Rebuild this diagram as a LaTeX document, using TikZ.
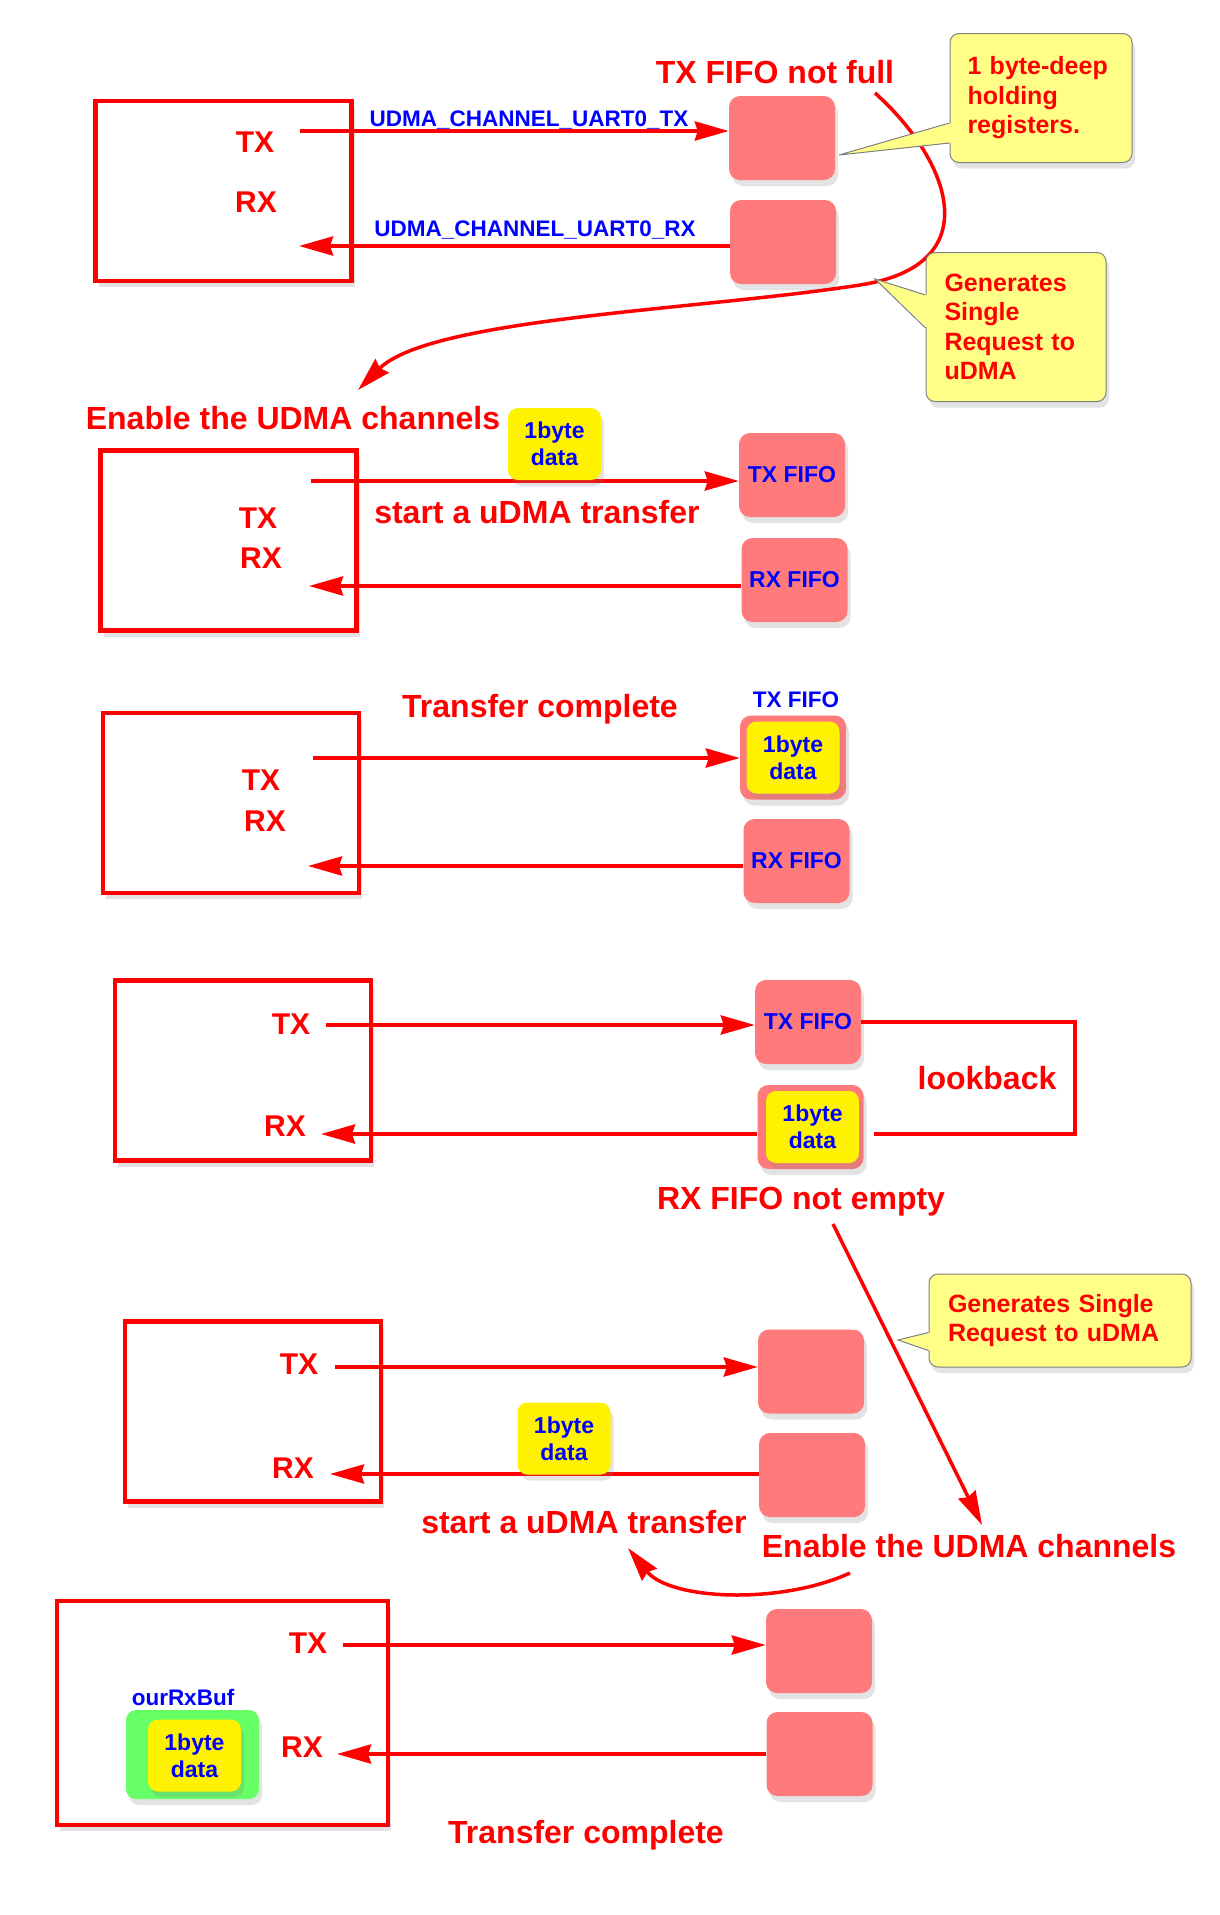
\documentclass[tikz,border=0pt]{standalone}
\usepackage{fontspec}
\setmainfont{Liberation Sans}
\usetikzlibrary{arrows.meta,shadows,positioning,calc}

\definecolor{fifopink}{RGB}{255,123,123}
\definecolor{notefill}{RGB}{255,255,136}
\definecolor{bufgreen}{RGB}{102,255,102}

\begin{document}
\begin{tikzpicture}[x=1pt,y=-1pt,>={Stealth[length=34pt,width=19pt,inset=3pt]}]
  \tikzstyle{soft}=[drop shadow={opacity=0.22,shadow xshift=3pt,shadow yshift=-6pt}]
  \tikzstyle{dev}=[rectangle,draw=red,line width=4.5pt,fill=white,minimum width=256pt,minimum height=180pt,soft]
  \tikzstyle{fifo}=[rectangle,rounded corners=11pt,fill=fifopink,minimum width=106pt,minimum height=84pt,text=blue,font=\fontsize{23}{27}\selectfont\bfseries,soft]
  \tikzstyle{byte}=[rectangle,rounded corners=10pt,fill=yellow,minimum width=93pt,minimum height=72pt,text=blue,align=center,font=\fontsize{23}{27}\selectfont\bfseries,soft]
  \tikzstyle{port}=[text=red,font=\fontsize{30}{36}\selectfont\bfseries]
  \tikzstyle{note}=[text=red,font=\fontsize{32}{38}\selectfont\bfseries]
  \tikzstyle{chan}=[text=blue,font=\fontsize{22.5}{26}\selectfont\bfseries]
  \tikzstyle{balloon}=[rectangle,rounded corners=9pt,draw=gray,line width=1pt,fill=notefill,text=red,align=left,inner sep=4pt,font=\fontsize{25}{29.5}\selectfont\bfseries,soft]
  \tikzstyle{conn}=[draw=red,line width=3.8pt]
  \tikzstyle{curl}=[draw=red,line width=3.5pt]

  \fill[white] (0,0) rectangle (1219,1915);
  \useasboundingbox (0,0) rectangle (1219,1915);

  % 1: TX FIFO not full
  \node[dev] (dev1) at (223.5,191) {};
  \node[port] (tx1) at (255,142) {TX};
  \node[port] (rx1) at (256,202) {RX};
  \node[fifo] (txf1) at (782,138) {};
  \node[fifo] (rxf1) at (783,242) {};
  \coordinate (txs1) at (300,131);
  \coordinate (rxe1) at (299,246);
  \draw[conn,->] (txs1) -- (txs1 -| txf1.west);
  \draw[conn,->] (rxe1 -| rxf1.west) -- (rxe1);
  \node[chan] (chtx) at (529,120) {UDMA\_CHANNEL\_UART0\_TX};
  \node[chan] (chrx) at (535,230) {UDMA\_CHANNEL\_UART0\_RX};
  \node[note] (notfull) at (775,72) {TX FIFO not full};
  \coordinate (c1s) at (875,93);
  \coordinate (c1e) at (358,390);
  \draw[curl,->] (c1s) .. controls (950,160) and (990,265) .. (860,285)
    .. controls (700,310) and (430,318) .. (c1e);
  \node[balloon,minimum width=182pt,minimum height=129pt,text width=147pt] (hold) at (1041,98) {1 byte-deep\\holding\\registers.};
  \coordinate (holdtip) at (839,155);
  \fill[notefill] ($(hold.west)+(2,25)$) -- (holdtip) -- ($(hold.west)+(2,45)$) -- cycle;
  \draw[gray,line width=1pt] ($(hold.west)+(0,25)$) -- (holdtip) -- ($(hold.west)+(0,45)$);
  \node[balloon,minimum width=180pt,minimum height=149pt,text width=143pt] (gen1) at (1016,327) {Generates\\Single\\Request to\\uDMA};
  \coordinate (gentip1) at (875,279);
  \fill[notefill] ($(gen1.west)+(2,-32)$) -- (gentip1) -- ($(gen1.west)+(2,1)$) -- cycle;
  \draw[gray,line width=1pt] ($(gen1.west)+(0,-32)$) -- (gentip1) -- ($(gen1.west)+(0,1)$);

  % 2: enable the channels
  \node[note] (enable1) at (293,418) {Enable the UDMA channels};
  \node[dev] (dev2) at (228.5,540.5) {};
  \node[port] (tx2) at (258,518) {TX};
  \node[port] (rx2) at (261,558) {RX};
  \node[fifo] (txf2) at (792,475) {TX FIFO};
  \node[fifo] (rxf2) at (794.5,580) {RX FIFO};
  \coordinate (txs2) at (311,481);
  \coordinate (rxe2) at (309,586);
  \draw[conn,->] (txs2) -- (txs2 -| txf2.west);
  \draw[conn,->] (rxe2 -| rxf2.west) -- (rxe2);
  \node[byte] (data1) at (554.5,444) {1byte\\data};
  \node[note] (start1) at (537,512) {start a uDMA transfer};

  % 3: transfer complete
  \node[note] (done1) at (540,709) {Transfer complete};
  \node[dev] (dev3) at (231,803) {};
  \node[port] (tx3) at (261,780) {TX};
  \node[port] (rx3) at (265,821) {RX};
  \node[fifo] (txf3) at (793,757.5) {};
  \node[byte] (data2) at (txf3.center) {1byte\\data};
  \node[chan] (txn3) at (796,700) {TX FIFO};
  \node[fifo] (rxf3) at (796.5,861) {RX FIFO};
  \coordinate (txs3) at (313,758);
  \coordinate (rxe3) at (308,866);
  \draw[conn,->] (txs3) -- (txs3 -| txf3.west);
  \draw[conn,->] (rxe3 -| rxf3.west) -- (rxe3);

  % 4: lookback
  \node[dev] (dev4) at (243,1070.5) {};
  \node[port] (tx4) at (291,1024) {TX};
  \node[port] (rx4) at (285,1126) {RX};
  \node[fifo] (txf4) at (808,1022) {TX FIFO};
  \node[fifo] (rxf4) at (810.5,1127) {};
  \node[byte] (data3) at (812.5,1127) {1byte\\data};
  \coordinate (txs4) at (326,1025);
  \coordinate (rxe4) at (321,1134);
  \draw[conn,->] (txs4) -- (txs4 -| txf4.west);
  \draw[conn,->] (rxe4 -| rxf4.west) -- (rxe4);
  \draw[conn] (txf4.east) -- ++(214,0) |- ($(rxf4.east)+(10,7)$);
  \node[note] (lookbk) at (987,1078) {lookback};
  \node[note] (notempty) at (801,1202) {RX FIFO not empty};

  % 5: RX request
  \node[dev] (dev5) at (253,1411.5) {};
  \node[port] (tx5) at (299,1364) {TX};
  \node[port] (rx5) at (293,1468) {RX};
  \node[fifo] (txf5) at (811,1371.5) {};
  \node[fifo] (rxf5) at (812,1475) {};
  \coordinate (txs5) at (335,1367);
  \coordinate (rxe5) at (330,1474);
  \draw[conn,->] (txs5) -- (txs5 -| txf5.west);
  \draw[conn,->] (rxe5 -| rxf5.west) -- (rxe5);
  \node[byte] (data4) at (564,1438.5) {1byte\\data};
  \node[note] (start2) at (584,1522) {start a uDMA transfer};
  \node[note] (enable2) at (969,1546) {Enable the UDMA channels};
  \node[balloon,minimum width=262pt,minimum height=93pt,text width=224pt] (gen2) at (1060,1320.5) {Generates Single\\Request to uDMA};
  \coordinate (gentip2) at (898,1340);
  \fill[notefill] ($(gen2.west)+(2,12)$) -- (gentip2) -- ($(gen2.west)+(2,30)$) -- cycle;
  \draw[gray,line width=1pt] ($(gen2.west)+(0,12)$) -- (gentip2) -- ($(gen2.west)+(0,30)$);
  \coordinate (nes) at (833,1224);
  \coordinate (nee) at (982,1525);
  \draw[curl,->] (nes) -- (nee);
  \coordinate (c2s) at (850,1573);
  \coordinate (c2e) at (628,1548);
  \draw[curl,->] (c2s) .. controls (780,1605) and (670,1600) .. (c2e);

  % 6: data in ourRxBuf
  \node[dev,minimum width=331pt,minimum height=224pt] (dev6) at (222.5,1713) {};
  \node[port] (tx6) at (308,1643) {TX};
  \node[port] (rx6) at (302,1747) {RX};
  \node[fifo] (txf6) at (819,1651) {};
  \node[fifo] (rxf6) at (819.5,1754) {};
  \coordinate (txs6) at (343,1645);
  \coordinate (rxe6) at (337,1754);
  \draw[conn,->] (txs6) -- (txs6 -| txf6.west);
  \draw[conn,->] (rxe6 -| rxf6.west) -- (rxe6);
  \node[rectangle,rounded corners=10pt,fill=bufgreen,minimum width=133pt,minimum height=89pt,soft] (buf) at (192.5,1754.5) {};
  \node[byte] (data5) at (194.5,1755.5) {1byte\\data};
  \node[chan] (bufname) at (183,1697) {ourRxBuf};
  \node[note] (done2) at (586,1835) {Transfer complete};
\end{tikzpicture}
\end{document}
